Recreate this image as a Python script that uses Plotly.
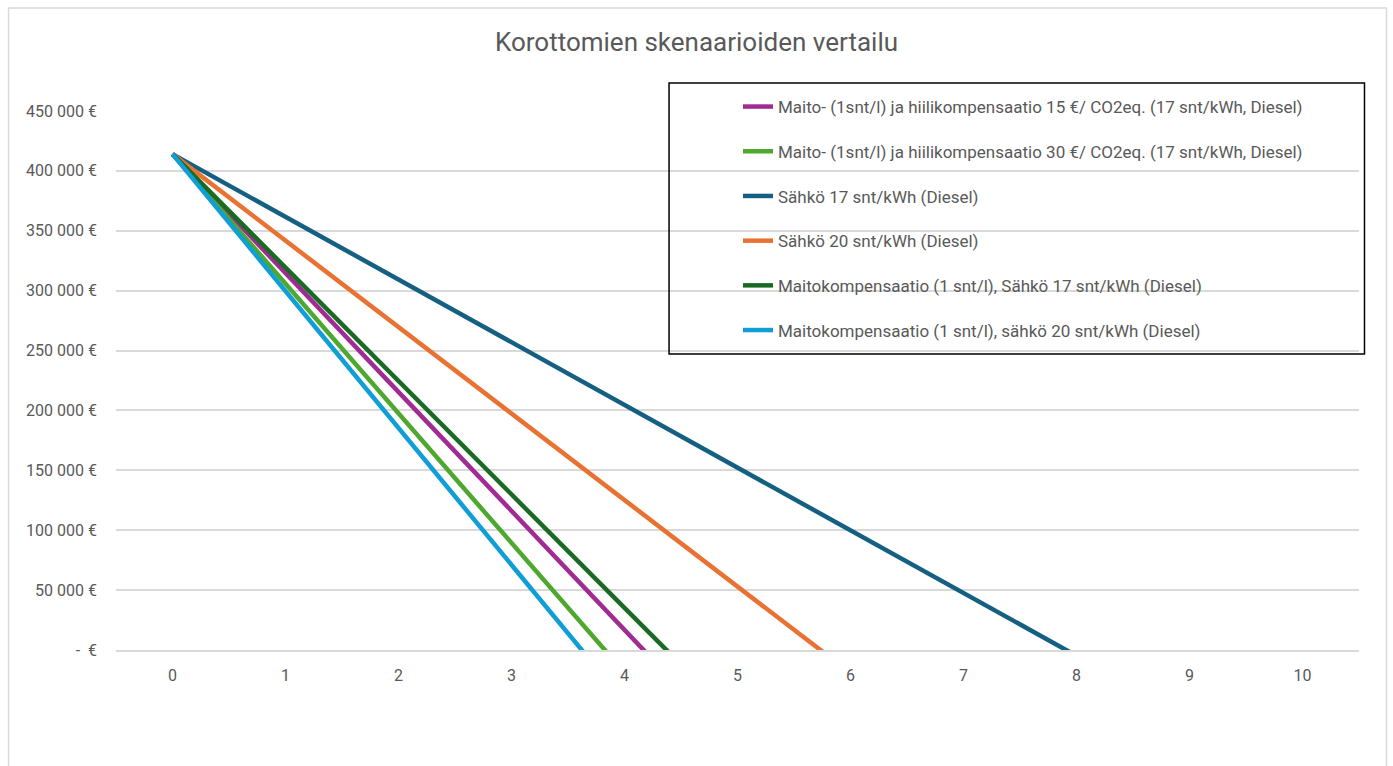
import plotly.graph_objects as go

# Years since investment
years = [0, 1, 2, 3, 4, 5, 6, 7, 8, 9, 10]

# Remaining balance (€) per scenario
maito_hiili_15 = [414000, 314700, 215400, 116100, 16800, -82500, -181800, -281100, -380400, -479700, -579000]
maito_hiili_30 = [414000, 305800, 197600, 89400, -18800, -127000, -235200, -343400, -451600, -559800, -668000]
sahko_17 = [414000, 361650, 309300, 256950, 204600, 152250, 99900, 47550, -4800, -57150, -109500]
sahko_20 = [414000, 341800, 269600, 197400, 125200, 53000, -19200, -91400, -163600, -235800, -308000]
maito_sahko_17 = [414000, 319300, 224600, 129900, 35200, -59500, -154200, -248900, -343600, -438300, -533000]
maito_sahko_20 = [414000, 299700, 185400, 71100, -43200, -157500, -271800, -386100, -500400, -614700, -729000]

series_names = [
    "Maito- (1snt/l) ja hiilikompensaatio 15 €/ CO2eq. (17 snt/kWh, Diesel)",
    "Maito- (1snt/l) ja hiilikompensaatio 30 €/ CO2eq. (17 snt/kWh, Diesel)",
    "Sähkö 17 snt/kWh (Diesel)",
    "Sähkö 20 snt/kWh (Diesel)",
    "Maitokompensaatio (1 snt/l), Sähkö 17 snt/kWh (Diesel)",
    "Maitokompensaatio (1 snt/l), sähkö 20 snt/kWh (Diesel)",
]
series_values = [maito_hiili_15, maito_hiili_30, sahko_17, sahko_20, maito_sahko_17, maito_sahko_20]
series_colors = ["#A02B93", "#4EA72E", "#156082", "#E97132", "#196B24", "#0F9ED5"]

y_tick_values = [0, 50000, 100000, 150000, 200000, 250000, 300000, 350000, 400000, 450000]
y_tick_labels = ["-  €", "50 000 €", "100 000 €", "150 000 €", "200 000 €", "250 000 €",
                 "300 000 €", "350 000 €", "400 000 €", "450 000 €"]

FONT = "Roboto"
TEXT = "#595959"
GRID = "#D9D9D9"

fig = go.Figure()
for i, (name, vals, col) in enumerate(zip(series_names, series_values, series_colors)):
    fig.add_trace(go.Scatter(
        x=years, y=vals, name=name, mode="lines",
        line=dict(color=col, width=4.5),
        legendgroup=f"g{i}",
    ))

W, H = 1393, 766
L, R, T, B = 115.5, 33.5, 111, 116
pw, ph = W - L - R, H - T - B


def px(x):
    return (x - L) / pw


def py(y):
    return (H - B - y) / ph


fig.update_layout(
    width=W, height=H,
    margin=dict(l=L, r=R, t=T, b=B, autoexpand=False),
    paper_bgcolor="white", plot_bgcolor="white",
    font=dict(family=FONT, color=TEXT, size=16),
    title=dict(text="Korottomien skenaarioiden vertailu", x=0.5, xanchor="center",
               y=1 - 42 / H, yanchor="middle", font=dict(size=26, color=TEXT, family=FONT)),
    showlegend=True,
    legend=dict(
        x=px(738), xanchor="left", y=py(89), yanchor="top",
        bgcolor="rgba(0,0,0,0)", borderwidth=0,
        font=dict(size=17, color=TEXT, family=FONT),
        tracegroupgap=19.6, itemwidth=30,
    ),
    xaxis=dict(
        range=[-0.5, 10.5], tickvals=years, ticktext=[str(v) for v in years],
        showgrid=False, zeroline=False, showline=True, linecolor=GRID, linewidth=1.5,
        ticks="", ticklabelstandoff=10, tickfont=dict(size=16, color=TEXT),
    ),
    yaxis=dict(
        range=[0, 450000], tickvals=y_tick_values, ticktext=y_tick_labels,
        showgrid=True, gridcolor=GRID, gridwidth=1.5, zeroline=False, showline=False,
        ticks="", ticklabelstandoff=18, tickfont=dict(size=16, color=TEXT),
    ),
    shapes=[
        # legend frame
        dict(type="rect", xref="paper", yref="paper",
             x0=px(669), x1=px(1365), y0=py(354), y1=py(83),
             line=dict(color="black", width=1.5), fillcolor="rgba(0,0,0,0)", layer="above"),
        # chart area frame
        dict(type="rect", xref="paper", yref="paper",
             x0=px(8), x1=px(1387), y0=py(780), y1=py(8),
             line=dict(color=GRID, width=1.5), fillcolor="rgba(0,0,0,0)", layer="below"),
    ],
)

fig.write_html("out.html")
